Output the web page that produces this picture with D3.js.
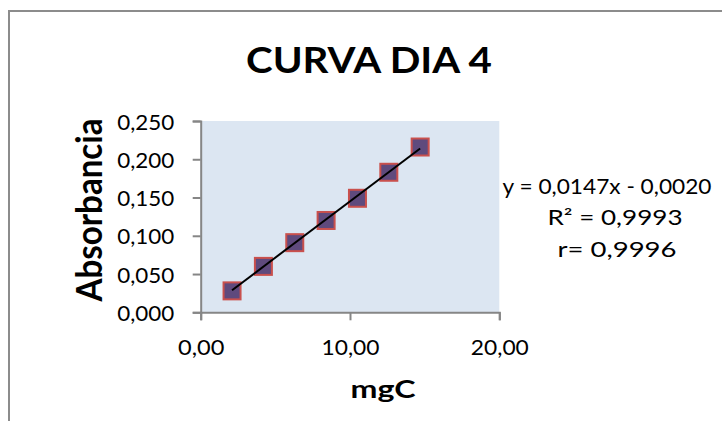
<!DOCTYPE html>
<html>
<head>
<meta charset="utf-8">
<script src="https://cdn.jsdelivr.net/npm/d3@7"></script>
<style>
  body { margin: 0; background: #fff; }
  text { font-family: Lato, "Open Sans", sans-serif; fill: #000; }
</style>
</head>
<body>
<div id="container"></div>
<script>
// data
const mgC = [2.1, 4.2, 6.3, 8.4, 10.5, 12.6, 14.7];
const absorbancia = [0.028, 0.060, 0.091, 0.120, 0.149, 0.183, 0.216];
const xTicks = [0, 10, 20];
const yTicks = [0, 0.05, 0.10, 0.15, 0.20, 0.25];
const slope = 0.0147, intercept = -0.0020;
const eqLines = ["y = 0,0147x - 0,0020", "R² = 0,9993", "r= 0,9996"];

const w = 722, h = 421;
const plot = {left: 200.7, right: 499.3, top: 121, bottom: 312.3};

const loc = d3.formatLocale({decimal: ",", thousands: ".", grouping: [3], currency: ["", ""]});

const xScale = d3.scaleLinear().domain([0, 20]).range([plot.left, plot.right]);
const yScale = d3.scaleLinear().domain([0, 0.25]).range([plot.bottom, plot.top]);

let svg = d3.select("#container")
    .append("svg")
    .attr("width", w)
    .attr("height", h);

// outer chart border (only top and left visible)
svg.append("rect")
    .attr("x", 9).attr("y", 11)
    .attr("width", 800).attr("height", 500)
    .attr("fill", "none")
    .attr("stroke", "#8c8c8c")
    .attr("stroke-width", 2);

svg.append("text")
    .attr("x", 369).attr("y", 72.5)
    .attr("text-anchor", "middle")
    .attr("font-size", 37)
    .attr("font-weight", "bold")
    .attr("textLength", 246)
    .attr("lengthAdjust", "spacingAndGlyphs")
    .text("CURVA DIA 4");

// plot area
svg.append("rect")
    .attr("x", plot.left).attr("y", plot.top)
    .attr("width", plot.right - plot.left)
    .attr("height", plot.bottom - plot.top)
    .attr("fill", "#dce6f2");

const xAxis = svg.append("g")
    .attr("transform", "translate(0," + plot.bottom + ")")
    .call(d3.axisBottom(xScale).tickValues(xTicks).tickSize(8).tickFormat(loc.format(".2f")));

const yAxis = svg.append("g")
    .attr("transform", "translate(" + plot.left + ",0)")
    .call(d3.axisLeft(yScale).tickValues(yTicks).tickSize(8).tickFormat(loc.format(".3f")));

[xAxis, yAxis].forEach((ax) => {
    ax.select(".domain").attr("stroke", "#868686").attr("stroke-width", 2);
    ax.selectAll(".tick line").attr("stroke", "#868686").attr("stroke-width", 2);
    ax.selectAll(".tick text")
        .attr("font-family", "Lato, sans-serif")
        .attr("font-size", 21)
        .attr("fill", "#000")
        .attr("lengthAdjust", "spacingAndGlyphs");
});

// label width grows with the number of characters
xAxis.selectAll(".tick text")
    .attr("y", 43).attr("dy", 0)
    .attr("textLength", function () { return this.textContent.length * 11.6; });

yAxis.selectAll(".tick text")
    .attr("x", -26.5).attr("dy", 8)
    .attr("textLength", 57);

// axis titles
svg.append("text")
    .attr("x", 383).attr("y", 397.5)
    .attr("text-anchor", "middle")
    .attr("font-size", 24)
    .attr("font-weight", "bold")
    .attr("textLength", 65)
    .attr("lengthAdjust", "spacingAndGlyphs")
    .text("mgC");

svg.append("text")
    .attr("transform", "translate(101.5,210) rotate(-90)")
    .attr("text-anchor", "middle")
    .attr("font-size", 36)
    .attr("font-weight", "bold")
    .attr("textLength", 183)
    .attr("lengthAdjust", "spacingAndGlyphs")
    .text("Absorbancia");

// markers
const pts = mgC.map((x, i) => ({x: x, y: absorbancia[i]}));
const ms = 17;
svg.selectAll("rect.pt")
    .data(pts)
    .enter()
    .append("rect")
    .attr("class", "pt")
    .attr("x", (d) => xScale(d.x) - ms / 2)
    .attr("y", (d) => yScale(d.y) - ms / 2)
    .attr("width", ms)
    .attr("height", ms)
    .attr("fill", "#5f4a7d")
    .attr("stroke", "#c9504d")
    .attr("stroke-width", 2);

// linear trendline
const x0 = d3.min(mgC), x1 = d3.max(mgC);
svg.append("line")
    .attr("x1", xScale(x0)).attr("y1", yScale(slope * x0 + intercept))
    .attr("x2", xScale(x1)).attr("y2", yScale(slope * x1 + intercept))
    .attr("stroke", "#000")
    .attr("stroke-width", 2);

// equation label
const eqX = [607, 615, 617];
const eqW = [209, 135, 119];
svg.selectAll("text.eq")
    .data(eqLines)
    .enter()
    .append("text")
    .attr("class", "eq")
    .attr("x", (d, i) => eqX[i])
    .attr("y", (d, i) => 193.5 + i * 31.7)
    .attr("text-anchor", "middle")
    .attr("font-size", 20.5)
    .attr("textLength", (d, i) => eqW[i])
    .attr("lengthAdjust", "spacingAndGlyphs")
    .text((d) => d);
</script>
</body>
</html>
